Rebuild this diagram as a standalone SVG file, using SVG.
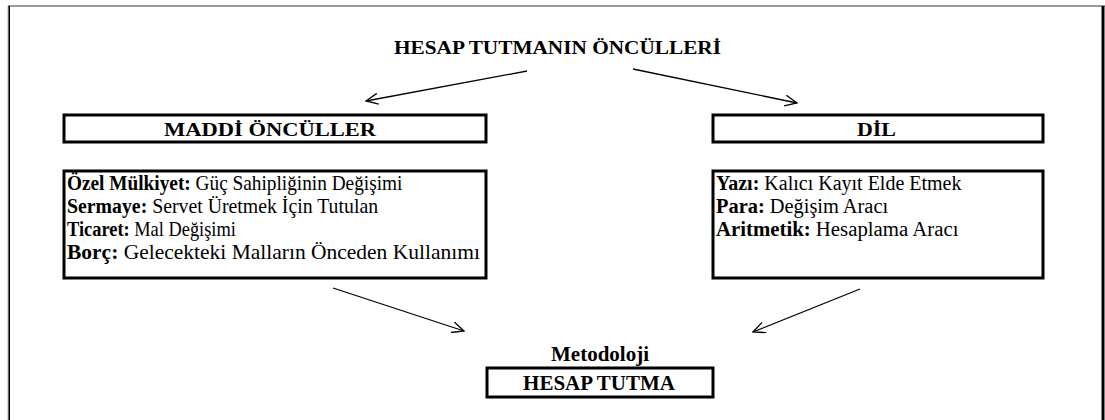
<svg xmlns="http://www.w3.org/2000/svg" width="1105" height="420" viewBox="0 0 1105 420">
  <style>
    .box { fill: #ffffff; stroke: #000000; stroke-width: 3; }
    .t { font-family: 'Liberation Serif', 'Times New Roman', serif; fill: #000000; }
    .b { font-weight: bold; }
    .title { font-size: 18.5px; font-weight: bold; }
    .head { font-size: 19px; font-weight: bold; }
    .body { font-size: 20px; }
    .big { font-size: 21px; font-weight: bold; }
    .conn { stroke: #000000; stroke-width: 1.3; fill: none; marker-end: url(#open); }
  </style>
  <defs>
    <marker id="open" viewBox="0 0 14 12" refX="13" refY="6" markerWidth="14" markerHeight="12" markerUnits="userSpaceOnUse" orient="auto">
      <path d="M1,0.5 L13,6 L1,11.5" fill="none" stroke="#000000" stroke-width="1.3"/>
    </marker>
  </defs>

  <rect width="1105" height="420" fill="#ffffff"/>

  <!-- page frame -->
  <g id="frame">
    <line x1="8" y1="6" x2="1105" y2="6" stroke="#7a7a7a" stroke-width="1.6"/>
    <line x1="7.5" y1="6" x2="7.5" y2="420" stroke="#d8d8d8" stroke-width="1"/>
    <line x1="9.2" y1="6" x2="9.2" y2="420" stroke="#000000" stroke-width="1.6"/>
    <line x1="1103" y1="6" x2="1103" y2="420" stroke="#000000" stroke-width="3"/>
  </g>

  <g id="title">
    <text class="t title" x="394" y="54" textLength="327" lengthAdjust="spacingAndGlyphs">HESAP TUTMANIN ÖNCÜLLERİ</text>
  </g>

  <g id="maddi-onculler">
    <rect class="box" x="64" y="115" width="422" height="27"/>
    <text class="t head" x="164" y="136" textLength="212" lengthAdjust="spacingAndGlyphs">MADDİ ÖNCÜLLER</text>
  </g>

  <g id="dil">
    <rect class="box" x="713" y="115" width="330" height="27"/>
    <text class="t head" x="857" y="136" textLength="39" lengthAdjust="spacingAndGlyphs">DİL</text>
  </g>

  <!-- list lines: mixed bold/regular runs, widened per line with a horizontal scale -->
  <g id="maddi-liste">
    <rect class="box" x="64" y="171" width="422" height="107"/>
    <text class="t body" transform="translate(67,190) scale(0.965,1)"><tspan class="b">Özel Mülkiyet:</tspan> Güç Sahipliğinin Değişimi</text>
    <text class="t body" transform="translate(67,213) scale(0.99,1)"><tspan class="b">Sermaye:</tspan> Servet Üretmek İçin Tutulan</text>
    <text class="t body" transform="translate(67,236) scale(0.92,1)"><tspan class="b">Ticaret:</tspan> Mal Değişimi</text>
    <text class="t body" transform="translate(67,259) scale(1.075,1)"><tspan class="b">Borç:</tspan> Gelecekteki Malların Önceden Kullanımı</text>
  </g>

  <g id="dil-liste">
    <rect class="box" x="713" y="171" width="330" height="107"/>
    <text class="t body" transform="translate(716,190)"><tspan class="b">Yazı:</tspan> Kalıcı Kayıt Elde Etmek</text>
    <text class="t body" transform="translate(716,213) scale(1.02,1)"><tspan class="b">Para:</tspan> Değişim Aracı</text>
    <text class="t body" transform="translate(716,236) scale(1.04,1)"><tspan class="b">Aritmetik:</tspan> Hesaplama Aracı</text>
  </g>

  <g id="hesap-tutma">
    <text class="t big" x="600" y="361" text-anchor="middle">Metodoloji</text>
    <rect class="box" x="487" y="368" width="226" height="29"/>
    <text class="t big" x="599" y="390" text-anchor="middle">HESAP TUTMA</text>
  </g>

  <g id="connectors">
    <line class="conn" x1="527" y1="71" x2="366" y2="101"/>
    <line class="conn" x1="633" y1="69" x2="797" y2="103"/>
    <line class="conn" x1="333" y1="288" x2="464" y2="331"/>
    <line class="conn" x1="860" y1="289" x2="753" y2="332"/>
  </g>
</svg>
